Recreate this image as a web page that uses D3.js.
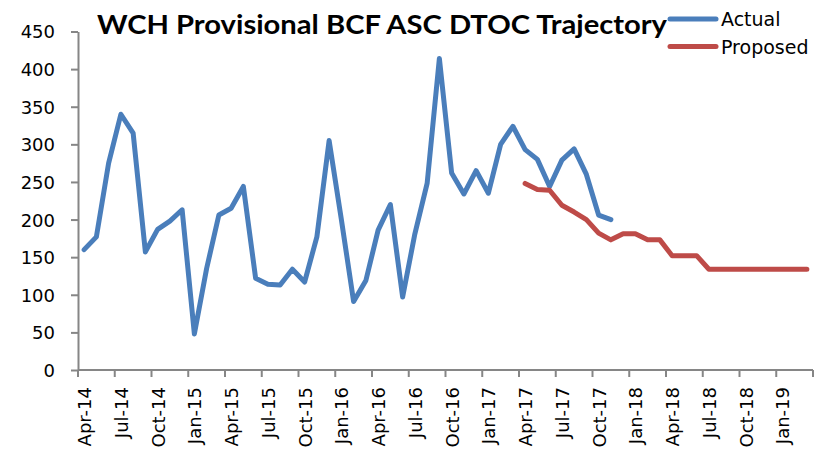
<!DOCTYPE html>
<html>
<head>
<meta charset="utf-8">
<script src="https://cdn.jsdelivr.net/npm/d3@7"></script>
<style>
  body { margin: 0; background: #fff; }
  svg { display: block; }
</style>
</head>
<body>
<div id="chart"></div>
<script>
// categories, one per month
const months = [
  "Apr-14","May-14","Jun-14","Jul-14","Aug-14","Sep-14","Oct-14","Nov-14","Dec-14","Jan-15","Feb-15","Mar-15",
  "Apr-15","May-15","Jun-15","Jul-15","Aug-15","Sep-15","Oct-15","Nov-15","Dec-15","Jan-16","Feb-16","Mar-16",
  "Apr-16","May-16","Jun-16","Jul-16","Aug-16","Sep-16","Oct-16","Nov-16","Dec-16","Jan-17","Feb-17","Mar-17",
  "Apr-17","May-17","Jun-17","Jul-17","Aug-17","Sep-17","Oct-17","Nov-17","Dec-17","Jan-18","Feb-18","Mar-18",
  "Apr-18","May-18","Jun-18","Jul-18","Aug-18","Sep-18","Oct-18","Nov-18","Dec-18","Jan-19","Feb-19","Mar-19"
];

// Actual: Apr-14 .. Nov-17
const actual = [
  160, 177, 275, 340, 315, 157, 187, 198, 213, 48, 135, 206,
  215, 244, 122, 114, 113, 134, 117, 177, 305, 200, 91, 119,
  186, 220, 97, 181, 248, 414, 262, 234, 265, 235, 300, 324,
  293, 280, 244, 279, 294, 260, 206, 200
];

// Proposed: Apr-17 .. Mar-19
const proposedStart = "Apr-17";
const proposed = [
  248, 240, 239, 219, 210, 200, 182, 173, 181, 181, 173, 173,
  152, 152, 152, 134, 134, 134, 134, 134, 134, 134, 134, 134
];

const yTicks = [0, 50, 100, 150, 200, 250, 300, 350, 400, 450];
const seriesNames = ["Actual", "Proposed"];
const colors = ["#4a7ebb", "#be4b48"];

const width = 821, height = 452;
const margin = { left: 78, right: 813, top: 31.5, bottom: 370 };

const svg = d3.select("#chart").append("svg")
  .attr("width", width)
  .attr("height", height);

const x = d3.scaleBand().domain(months).range([margin.left, margin.right]);
const y = d3.scaleLinear().domain([0, 450]).range([margin.bottom, margin.top]);

const axisColor = "#868686";
const font = "DejaVu Sans, sans-serif";

// y axis
const yAxis = svg.append("g")
  .attr("transform", `translate(${margin.left},0)`)
  .call(d3.axisLeft(y).tickValues(yTicks).tickSize(7).tickPadding(16).tickSizeOuter(0));
yAxis.select(".domain").attr("stroke", axisColor).attr("stroke-width", 2);
yAxis.selectAll(".tick line").attr("stroke", axisColor).attr("stroke-width", 2);
yAxis.selectAll(".tick text")
  .attr("fill", "#000")
  .style("font-family", font)
  .style("font-size", "18px")
  .attr("dy", "0.36em");

// x axis: tick marks every 3 categories on band edges
const xg = svg.append("g").attr("transform", `translate(0,${margin.bottom})`);
xg.append("line")
  .attr("x1", margin.left).attr("x2", margin.right)
  .attr("stroke", axisColor).attr("stroke-width", 2);
const edges = d3.range(0, months.length + 1, 3).map(i => i < months.length ? x(months[i]) : margin.right);
xg.selectAll("line.tk")
  .data(edges)
  .enter().append("line")
  .attr("class", "tk")
  .attr("x1", d => d).attr("x2", d => d)
  .attr("y1", 0).attr("y2", 7)
  .attr("stroke", axisColor).attr("stroke-width", 2);
xg.selectAll("text")
  .data(months.filter((m, i) => i % 3 === 0))
  .enter().append("text")
  .attr("transform", d => `translate(${x(d) + x.bandwidth() / 2 + 7},17) rotate(-90)`)
  .attr("text-anchor", "end")
  .style("font-family", font)
  .style("font-size", "18px")
  .attr("fill", "#000")
  .text(d => d);

// lines
const line = d3.line()
  .x(d => x(d[0]) + x.bandwidth() / 2)
  .y(d => y(d[1]));

const actualPts = actual.map((v, i) => [months[i], v]);
const p0 = months.indexOf(proposedStart);
const proposedPts = proposed.map((v, i) => [months[p0 + i], v]);

[actualPts, proposedPts].forEach((pts, k) => {
  svg.append("path")
    .datum(pts)
    .attr("d", line)
    .attr("fill", "none")
    .attr("stroke", colors[k])
    .attr("stroke-width", 5)
    .attr("stroke-linejoin", "round")
    .attr("stroke-linecap", "round");
});

// title
svg.append("text")
  .attr("x", 97).attr("y", 33.5)
  .attr("textLength", 570)
  .attr("lengthAdjust", "spacingAndGlyphs")
  .style("font-family", "Lato, 'Open Sans', sans-serif")
  .style("font-weight", "bold")
  .style("font-size", "27px")
  .attr("fill", "#000")
  .text("WCH Provisional BCF ASC DTOC Trajectory");

// legend
const legend = svg.append("g");
seriesNames.forEach((name, k) => {
  const ly = 19 + k * 27.5;
  legend.append("line")
    .attr("x1", 670).attr("x2", 716)
    .attr("y1", ly).attr("y2", ly)
    .attr("stroke", colors[k])
    .attr("stroke-width", 5)
    .attr("stroke-linecap", "round");
  legend.append("text")
    .attr("x", 721).attr("y", ly + 7)
    .style("font-family", font)
    .style("font-size", "19px")
    .attr("fill", "#000")
    .text(name);
});
</script>
</body>
</html>
